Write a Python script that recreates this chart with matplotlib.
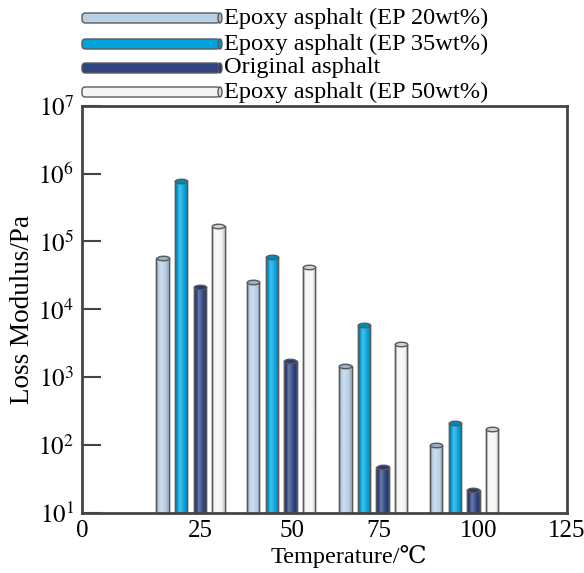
import numpy as np
import matplotlib
matplotlib.use("Agg")
import matplotlib.pyplot as plt
from matplotlib.patches import Rectangle, FancyBboxPatch, Ellipse
from matplotlib.collections import EllipseCollection
import matplotlib.colors as mcolors

plt.rcParams['font.family'] = ['Liberation Serif', 'DejaVu Serif']
plt.rcParams['mathtext.fontset'] = 'stix'

# ---- data ----
temperatures = ['25', '50', '75', '100']
series_names = ['Epoxy asphalt (EP 20wt%)', 'Epoxy asphalt (EP 35wt%)',
                'Original asphalt', 'Epoxy asphalt (EP 50wt%)']
ep20 = [5.8e4, 2.5e4, 1.46e3, 101]
ep35 = [7.8e5, 5.85e4, 5.8e3, 212]
orig = [2.15e4, 1.71e3, 47, 21.4]
ep50 = [1.69e5, 4.25e4, 3.1e3, 170]
xtick_labels = ['0', '25', '50', '75', '100', '125']

# ---- layout (positions / styles) ----
group_pos = [27.9, 51.3, 75.1, 98.5]
offsets = [-7.2, -2.4, 2.4, 7.2]
xtick_pos = [0, 30.4, 54.0, 76.5, 102.2, 125]
bar_w = 3.2
base = 10
colors = ['#b8cfe5', '#00a2dd', '#2f4580', '#f5f5f5']
edge = '#5a5a5a'

W, H = 584, 573
fig = plt.figure(figsize=(W / 100, H / 100), dpi=100)
ax = fig.add_axes([82.3 / W, 1 - 512.7 / H, (566.7 - 82.3) / W, (512.7 - 105.9) / H])
ax.set_yscale('log')
ax.set_xlim(0, 125)
ax.set_ylim(10, 1e7)


def shade(c, f):
    r = np.array(mcolors.to_rgb(c))
    if f >= 0:
        return tuple(r + (1 - r) * f)
    return tuple(r * (1 + f))


all_series = [ep20, ep35, orig, ep50]
px_per_unit = (566.7 - 82.3) / 125
for si, (vals, col) in enumerate(zip(all_series, colors)):
    xs = [g + offsets[si] for g in group_pos]
    heights = [v - base for v in vals]
    bars = ax.bar(xs, heights, width=bar_w, bottom=base, color=col, edgecolor=edge,
                  linewidth=1.0, zorder=2)
    # cylinder gradient
    t = np.linspace(0, 1, 40)
    prof = np.where(t < 0.35, -0.25 + 0.55 * (t / 0.35),
                    0.3 - 0.5 * (t - 0.35) / 0.65)
    grad = np.array([[shade(col, p) for p in prof]])
    for b, x, v in zip(bars, xs, vals):
        im = ax.imshow(grad, extent=[x - bar_w / 2, x + bar_w / 2, base, v],
                       aspect='auto', zorder=2.1, interpolation='bilinear')
        im.set_clip_path(b)
        ax.add_patch(Rectangle((x - bar_w / 2, base), bar_w, v - base, fill=False,
                               edgecolor=edge, linewidth=1.0, zorder=2.2))
    ec = EllipseCollection(widths=bar_w * px_per_unit, heights=4.5, angles=0,
                           units='dots', offsets=np.column_stack([xs, vals]),
                           offset_transform=ax.transData,
                           facecolors=[shade(col, -0.15)], edgecolors=edge,
                           linewidths=1.0, zorder=3)
    ax.add_collection(ec)

ax.set_xlim(0, 125)
ax.set_ylim(10, 1e7)
ax.set_xticks(xtick_pos)
ax.set_xticklabels(xtick_labels)
ax.set_yticks([10 ** k for k in range(1, 8)])
ax.set_yticklabels([r'$10^{%d}$' % k for k in range(1, 8)])
ax.minorticks_off()
ax.tick_params(axis='y', direction='in', length=13.7, width=1.5, color='#444444',
               labelsize=18, pad=6)
ax.tick_params(axis='x', length=0, labelsize=18, pad=5)
for s in ax.spines.values():
    s.set_linewidth(2)
    s.set_color('#444444')
ax.set_xlabel('Temperature/℃', fontsize=17.5)
ax.xaxis.set_label_coords(0.551, -0.08)
ax.set_ylabel('Loss Modulus/Pa', fontsize=19.5, labelpad=2)

# ---- legend drawn at figure level ----
rows_y = [18, 44, 68, 92]
for name, col, yy in zip(series_names, colors, rows_y):
    x0, x1, h = 82, 220, 10
    fig.patches.append(FancyBboxPatch((x0 / W, 1 - (yy + h / 2) / H), (x1 - x0) / W, h / H,
                                      boxstyle='round,pad=0,rounding_size=0.006',
                                      transform=fig.transFigure, facecolor=col,
                                      edgecolor=edge, linewidth=1.0))
    fig.patches.append(Ellipse((x1 / W, 1 - yy / H), 4 / W, h / H,
                               transform=fig.transFigure, facecolor=shade(col, -0.1),
                               edgecolor=edge, linewidth=1.0))
    fig.text(224 / W, 1 - yy / H, name, fontsize=17.6, va='center', ha='left')

fig.savefig('out.png', dpi=100)
